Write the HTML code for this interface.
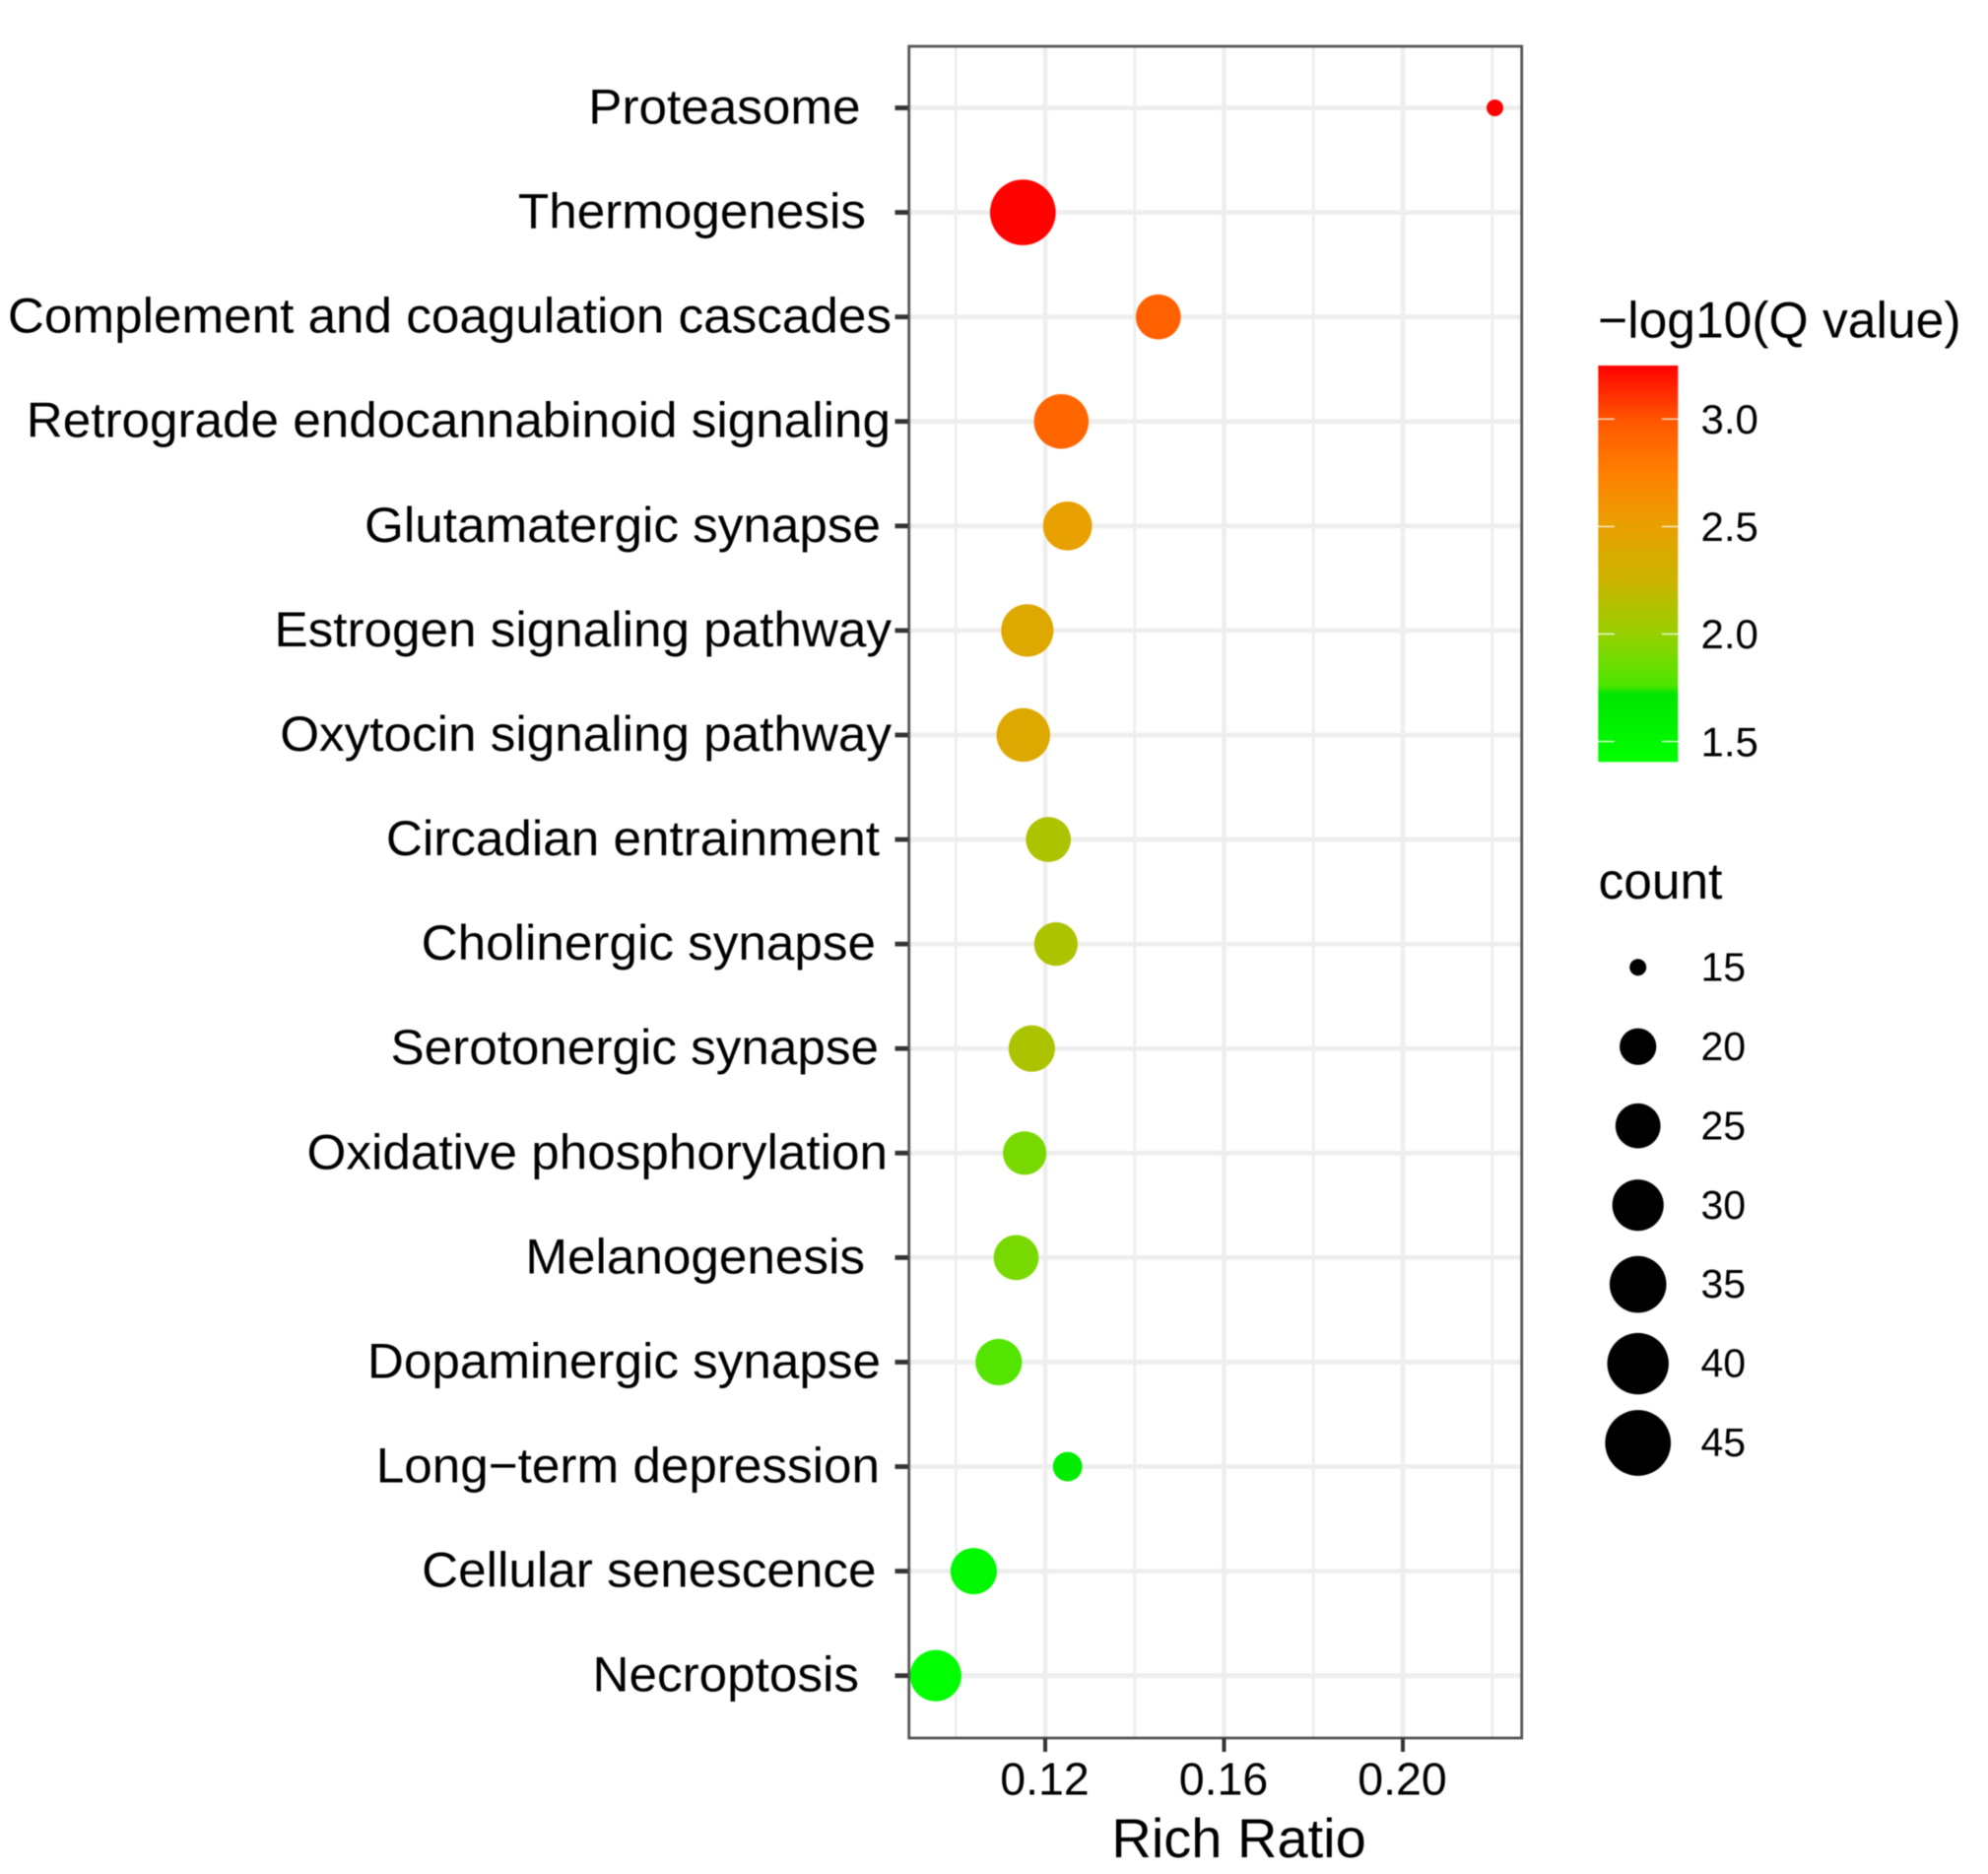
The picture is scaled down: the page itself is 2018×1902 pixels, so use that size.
<!DOCTYPE html>
<html lang="en">
<head>
<meta charset="utf-8">
<title>KEGG enrichment bubble chart</title>
<style>
html,body{margin:0;padding:0;background:#fff;width:2018px;height:1902px;overflow:hidden}
svg{display:block;filter:blur(0.5px)}
text{font-family:"Liberation Sans",Arial,sans-serif;fill:#000}
</style>
</head>
<body>
<svg id="chart" xmlns="http://www.w3.org/2000/svg" width="2018" height="1902" viewBox="0 0 2018 1902"></svg>
<script>
// ---- chart data ----
const categories = ["Proteasome","Thermogenesis","Complement and coagulation cascades","Retrograde endocannabinoid signaling","Glutamatergic synapse","Estrogen signaling pathway","Oxytocin signaling pathway","Circadian entrainment","Cholinergic synapse","Serotonergic synapse","Oxidative phosphorylation","Melanogenesis","Dopaminergic synapse","Long\u2212term depression","Cellular senescence","Necroptosis"];
const richRatio = [0.2206,0.1150,0.1453,0.1236,0.1250,0.1160,0.1151,0.1207,0.1224,0.1170,0.1154,0.1135,0.1096,0.1250,0.1040,0.0955];
const counts = [15,45,25,33,28,31,32,25,24,26,24,25,26,17,26,30];
const negLogQ = [3.25,3.24,2.93,2.90,2.50,2.40,2.40,2.10,2.10,2.10,1.90,1.90,1.78,1.65,1.50,1.41];
const xTickValues = [0.12,0.16,0.20];
const xTickLabels = ["0.12","0.16","0.20"];
const xMinorValues = [0.10,0.14,0.18,0.22];
const colorTickValues = [3.0,2.5,2.0,1.5];
const colorTickLabels = ["3.0","2.5","2.0","1.5"];
const sizeLegendCounts = [15,20,25,30,35,40,45];
const colorStopValues = [3.25,3.0,2.75,2.5,2.25,2.0,1.76,1.72,1.406];
const colorStopColors = ["#ff0000","#ff5500","#ff8000","#e8a000","#ccb300","#96d000","#4de600","#00e600","#00ff00"];

// ---- layout ----
const PANEL = {left:922.7,right:1544.7,top:47,bottom:1764};
const ROW0 = 109.5, ROW_STEP = 106.08;
const labelRight = [873.5,879,905,904,894,905,905,893,889,892,901,878,894,893,889.5,872];
const CBAR = {left:1622.3,right:1703.3,top:371,bottom:773.3};
const SVGNS = "http://www.w3.org/2000/svg";
const svg = document.getElementById("chart");

// ---- scales ----
function xScale(v){ return 1061 + (v - 0.12) * 4537.5; }
function yScale(i){ return ROW0 + i * ROW_STEP; }
function sizeScale(c){ return 17 + 49.7 * Math.sqrt(Math.max(0, c - 15) / 30); }
function colorY(v){ return 425.3 + (3.0 - v) * 218.2; }
function hex(c){ return [1,3,5].map(function(k){ return parseInt(c.substr(k,2),16); }); }
function colorScale(v){
  if (v >= colorStopValues[0]) return colorStopColors[0];
  for (let i = 1; i < colorStopValues.length; i++) {
    if (v >= colorStopValues[i]) {
      const t = (v - colorStopValues[i]) / (colorStopValues[i-1] - colorStopValues[i]);
      const a = hex(colorStopColors[i]), b = hex(colorStopColors[i-1]);
      return "rgb(" + a.map(function(x,k){ return Math.round(x + (b[k]-x)*t); }).join(",") + ")";
    }
  }
  return colorStopColors[colorStopColors.length-1];
}
function make(tag, attrs, parent){
  const el = document.createElementNS(SVGNS, tag);
  for (const k in attrs) el.setAttribute(k, attrs[k]);
  (parent || svg).appendChild(el);
  return el;
}

// ---- panel background & grid ----
const gridGroup = make("g", {});


xMinorValues.forEach(function(v){
  const l = make("line", {x1:xScale(v),x2:xScale(v),y1:PANEL.top,y2:PANEL.bottom,stroke:"#eeeeee","stroke-width":2.8}, gridGroup);
  
  
});
xTickValues.forEach(function(v){
  const l = make("line", {x1:xScale(v),x2:xScale(v),y1:PANEL.top,y2:PANEL.bottom,stroke:"#eeeeee","stroke-width":4.6}, gridGroup);
  
  
});
categories.forEach(function(c,i){
  const l = make("line", {x1:PANEL.left,x2:PANEL.right,y1:yScale(i),y2:yScale(i),stroke:"#eeeeee","stroke-width":4.8}, gridGroup);
  
  
});

// ---- points ----
const pointGroup = make("g", {});


categories.forEach(function(c,i){
  const p = make("circle", {cx:xScale(richRatio[i]),cy:yScale(i),r:sizeScale(counts[i])/2,fill:colorScale(negLogQ[i])}, pointGroup);
  
  
});

// ---- frame ----
const frame = make("rect", {x:PANEL.left,y:PANEL.top,width:PANEL.right-PANEL.left,height:PANEL.bottom-PANEL.top,fill:"none",stroke:"#555555","stroke-width":2.8});



// ---- y axis ----
categories.forEach(function(c,i){
  const t = make("line", {x1:908.5,x2:PANEL.left-1,y1:yScale(i),y2:yScale(i),stroke:"#333333","stroke-width":4.8});
  
  
  const lab = make("text", {"text-anchor":"end","font-size":50,transform:"translate("+labelRight[i]+","+(yScale(i)+16)+") scale(1.025,1)"});
  lab.textContent = c;
  
  
});

// ---- x axis ----
xTickValues.forEach(function(v,i){
  const t = make("line", {x1:xScale(v),x2:xScale(v),y1:PANEL.bottom,y2:1778,stroke:"#333333","stroke-width":4});
  
  
  const lab = make("text", {x:xScale(v)-0.5,y:1821.7,"text-anchor":"middle","font-size":46.5});
  lab.textContent = xTickLabels[i];
  
  
});
const xTitle = make("text", {x:1257.6,y:1885,"text-anchor":"middle","font-size":56});
xTitle.textContent = "Rich Ratio";



// ---- colour legend ----
const colorTitle = make("text", {x:1622,y:342.7,"font-size":51.6});
colorTitle.textContent = "\u2212log10(Q value)";


const defs = make("defs", {});
const grad = make("linearGradient", {id:"cbar",x1:0,x2:0,y1:0,y2:1}, defs);
colorStopValues.forEach(function(v,i){
  make("stop", {offset:(colorY(v)-CBAR.top)/(CBAR.bottom-CBAR.top),"stop-color":colorStopColors[i]}, grad);
});
const bar = make("rect", {x:CBAR.left,y:CBAR.top,width:CBAR.right-CBAR.left,height:CBAR.bottom-CBAR.top,fill:"url(#cbar)"});


colorTickValues.forEach(function(v,i){
  const y = colorY(v);
  const a = make("line", {x1:CBAR.left,x2:CBAR.left+16.5,y1:y,y2:y,stroke:"#ffffff","stroke-opacity":0.85,"stroke-width":1.4});
  
  
  const b = make("line", {x1:CBAR.right-16.5,x2:CBAR.right,y1:y,y2:y,stroke:"#ffffff","stroke-opacity":0.85,"stroke-width":1.4});
  
  
  const lab = make("text", {x:1726.5,y:y+14.7,"font-size":42});
  lab.textContent = colorTickLabels[i];
  
  
});

// ---- size legend ----
const sizeTitle = make("text", {x:1622.5,y:912,"font-size":51.5});
sizeTitle.textContent = "count";


sizeLegendCounts.forEach(function(c,i){
  const y = 981.8 + i * 80.45;
  const k = make("circle", {cx:1662.7,cy:y,r:sizeScale(c)/2,fill:"#000000"});
  
  
  const lab = make("text", {x:1726.5,y:y+13.6,"font-size":41});
  lab.textContent = String(c);
  
  
});
</script>
</body>
</html>
